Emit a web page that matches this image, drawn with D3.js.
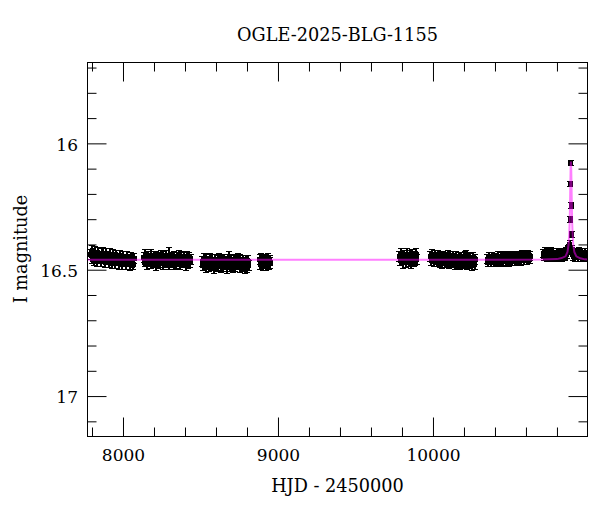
<!DOCTYPE html>
<html><head><meta charset="utf-8">
<script src="https://cdn.jsdelivr.net/npm/d3@7"></script>
<style>
html,body{margin:0;padding:0;background:#fff;}
svg{display:block;}
text{font-family:"DejaVu Serif",serif;fill:#000;}
</style></head>
<body>
<svg id="chart" width="600" height="512"></svg>
<script>
// ---- data (HJD-2450000, I mag, error) ----
const title = "OGLE-2025-BLG-1155";
const xLabel = "HJD - 2450000";
const yLabel = "I magnitude";
const xMajorTicks = [8000, 9000, 10000];
const xMinorTicks = [7800, 8200, 8400, 8600, 8800, 9200, 9400, 9600, 9800, 10200, 10400, 10600, 10800];
const yMajorTicks = [16, 16.5, 17];
const yMajorLabels = ["16", "16.5", "17"];
const yMinorTicks = [15.7, 15.8, 15.9, 16.1, 16.2, 16.3, 16.4, 16.6, 16.7, 16.8, 16.9, 17.1];

const season1 = [
 [7791,16.440,.020],[7797,16.428,.024],[7802,16.458,.019],[7808,16.436,.021],[7813,16.462,.020],
 [7819,16.431,.022],[7824,16.452,.019],[7830,16.443,.021],[7835,16.466,.020],[7841,16.434,.022],
 [7846,16.455,.019],[7852,16.446,.020],[7857,16.468,.021],[7863,16.437,.022],[7869,16.441,.028],
 [7874,16.458,.019],[7880,16.449,.020],[7885,16.470,.021],[7891,16.438,.022],[7896,16.460,.019],
 [7902,16.446,.020],[7907,16.472,.021],[7913,16.440,.022],[7918,16.462,.019],[7924,16.451,.020],
 [7929,16.474,.021],[7935,16.442,.022],[7940,16.464,.019],[7946,16.453,.020],[7951,16.476,.021],
 [7957,16.444,.022],[7962,16.466,.019],[7968,16.455,.020],[7973,16.477,.021],[7979,16.446,.022],
 [7984,16.468,.019],[7990,16.457,.020],[7995,16.478,.021],[8001,16.448,.022],[8007,16.469,.019],
 [8013,16.459,.020],[8019,16.479,.021],[8025,16.450,.022],[8031,16.470,.019],[8037,16.460,.020],
 [8043,16.480,.022],[8049,16.452,.021],[8055,16.471,.020],[8061,16.462,.022],[8067,16.478,.021],
 [8072,16.455,.020]
];
const season2 = [
 [8134,16.452,.020],[8139,16.470,.019],[8145,16.441,.021],[8150,16.462,.020],[8156,16.478,.022],
 [8161,16.447,.019],[8167,16.465,.020],[8172,16.456,.021],[8178,16.476,.020],[8183,16.443,.022],
 [8189,16.461,.019],[8194,16.471,.020],[8200,16.449,.021],[8205,16.466,.020],[8211,16.480,.022],
 [8216,16.445,.019],[8222,16.459,.020],[8227,16.473,.021],[8233,16.451,.020],[8238,16.468,.022],
 [8244,16.442,.019],[8249,16.463,.020],[8255,16.477,.021],[8260,16.448,.020],[8266,16.457,.022],
 [8271,16.474,.019],[8277,16.444,.020],[8282,16.466,.021],[8288,16.455,.020],[8294,16.479,.022],
 [8299,16.446,.032],[8305,16.462,.020],[8310,16.472,.021],[8316,16.450,.020],[8321,16.467,.022],
 [8327,16.481,.019],[8332,16.447,.020],[8338,16.460,.021],[8343,16.475,.020],[8349,16.452,.022],
 [8354,16.469,.019],[8360,16.444,.020],[8365,16.463,.021],[8371,16.478,.020],[8376,16.449,.022],
 [8382,16.458,.019],[8388,16.473,.020],[8393,16.453,.021],[8399,16.468,.020],[8405,16.480,.022],
 [8410,16.447,.019],[8416,16.464,.020],[8422,16.476,.021],[8427,16.455,.022],[8433,16.470,.021],
 [8438,16.460,.020]
];
const season3 = [
 [8511,16.466,.020],[8516,16.483,.019],[8522,16.455,.021],[8527,16.475,.020],[8533,16.490,.022],
 [8538,16.460,.019],[8544,16.478,.020],[8549,16.469,.021],[8555,16.488,.020],[8560,16.457,.022],
 [8566,16.474,.019],[8571,16.484,.020],[8577,16.462,.021],[8582,16.479,.020],[8588,16.492,.022],
 [8593,16.458,.019],[8599,16.472,.020],[8604,16.486,.021],[8610,16.464,.020],[8615,16.481,.022],
 [8621,16.456,.019],[8626,16.476,.020],[8632,16.489,.021],[8637,16.461,.020],[8643,16.470,.022],
 [8648,16.487,.019],[8654,16.458,.020],[8659,16.479,.021],[8665,16.468,.020],[8670,16.491,.022],
 [8676,16.457,.019],[8681,16.462,.034],[8687,16.475,.020],[8692,16.485,.021],[8698,16.463,.020],
 [8703,16.480,.022],[8709,16.493,.019],[8714,16.460,.020],[8720,16.473,.021],[8725,16.488,.020],
 [8731,16.465,.022],[8736,16.482,.019],[8742,16.457,.020],[8747,16.476,.021],[8753,16.490,.020],
 [8758,16.462,.022],[8764,16.471,.019],[8769,16.486,.020],[8775,16.466,.021],[8780,16.481,.020],
 [8786,16.494,.022],[8791,16.461,.019],[8797,16.477,.020],[8802,16.489,.022],[8807,16.468,.023],
 [8810,16.484,.021]
];
const season4 = [
 [8881,16.460,.020],[8886,16.478,.021],[8891,16.455,.019],[8896,16.471,.022],[8901,16.484,.020],
 [8906,16.462,.021],[8911,16.475,.019],[8916,16.458,.020],[8921,16.482,.022],[8926,16.466,.021],
 [8931,16.474,.019],[8936,16.457,.020],[8941,16.480,.021],[8946,16.464,.020],[8950,16.472,.022]
];
const season5 = [
 [9783,16.447,.020],[9788,16.464,.019],[9794,16.437,.021],[9799,16.457,.020],[9805,16.473,.022],
 [9810,16.442,.019],[9816,16.460,.020],[9821,16.451,.021],[9827,16.470,.020],[9832,16.438,.022],
 [9838,16.456,.019],[9843,16.466,.020],[9849,16.444,.021],[9854,16.461,.020],[9860,16.474,.022],
 [9865,16.440,.019],[9871,16.454,.020],[9876,16.468,.021],[9882,16.446,.020],[9887,16.463,.022],
 [9892,16.439,.021],[9896,16.458,.020]
];
const season6 = [
 [9984,16.448,.019],[9989,16.463,.020],[9995,16.440,.021],[10000,16.456,.019],[10006,16.468,.020],
 [10011,16.444,.021],[10017,16.459,.019],[10022,16.451,.020],[10028,16.467,.021],[10033,16.441,.019],
 [10039,16.457,.020],[10044,16.470,.021],[10050,16.447,.019],[10055,16.462,.020],[10061,16.474,.021],
 [10066,16.445,.019],[10072,16.458,.020],[10077,16.471,.021],[10083,16.450,.020],[10088,16.466,.022],
 [10094,16.443,.019],[10099,16.461,.020],[10105,16.476,.021],[10110,16.449,.020],[10116,16.457,.022],
 [10121,16.473,.019],[10127,16.446,.020],[10132,16.465,.021],[10138,16.456,.020],[10143,16.478,.022],
 [10149,16.448,.019],[10154,16.463,.020],[10160,16.474,.021],[10165,16.452,.020],[10171,16.469,.022],
 [10176,16.480,.019],[10182,16.450,.020],[10187,16.461,.021],[10193,16.476,.020],[10198,16.455,.022],
 [10204,16.471,.019],[10209,16.449,.020],[10215,16.453,.030],[10220,16.479,.020],[10226,16.452,.022],
 [10231,16.462,.019],[10237,16.477,.020],[10242,16.457,.021],[10248,16.472,.020],[10253,16.482,.022],
 [10259,16.451,.019],[10264,16.467,.020],[10269,16.478,.021],[10273,16.460,.020]
];
const season7 = [
 [10349,16.458,.017],[10354,16.471,.016],[10360,16.449,.018],[10365,16.464,.017],[10371,16.454,.016],
 [10376,16.469,.018],[10382,16.447,.017],[10387,16.461,.016],[10393,16.472,.017],[10398,16.452,.018],
 [10404,16.466,.016],[10409,16.456,.017],[10415,16.470,.018],[10420,16.446,.017],[10426,16.460,.016],
 [10431,16.467,.017],[10437,16.450,.018],[10442,16.463,.016],[10448,16.455,.017],[10453,16.469,.018],
 [10459,16.445,.017],[10464,16.459,.016],[10470,16.466,.017],[10475,16.451,.018],[10481,16.462,.016],
 [10486,16.453,.017],[10492,16.468,.018],[10497,16.444,.017],[10503,16.457,.016],[10508,16.465,.017],
 [10514,16.448,.018],[10519,16.461,.016],[10525,16.452,.017],[10530,16.466,.018],[10536,16.443,.017],
 [10541,16.455,.016],[10547,16.463,.017],[10552,16.447,.018],[10558,16.459,.016],[10563,16.450,.017],
 [10569,16.464,.018],[10574,16.442,.017],[10580,16.454,.016],[10585,16.461,.017],[10591,16.446,.018],
 [10596,16.457,.016],[10602,16.449,.017],[10607,16.462,.018],[10613,16.441,.017],[10618,16.453,.016],
 [10624,16.459,.017],[10628,16.447,.018]
];
const season8 = [
 [10711,16.436,.015],[10716,16.449,.014],[10722,16.430,.016],[10727,16.443,.015],[10733,16.452,.014],
 [10738,16.433,.016],[10744,16.446,.015],[10749,16.439,.014],[10755,16.454,.015],[10760,16.429,.016],
 [10766,16.442,.014],[10771,16.450,.015],[10777,16.434,.016],[10782,16.447,.014],[10788,16.438,.015],
 [10793,16.453,.016],[10799,16.431,.014],[10804,16.444,.015],[10810,16.451,.016],[10815,16.435,.014],
 [10821,16.448,.015],[10826,16.440,.016],[10832,16.455,.014],[10837,16.432,.015],[10843,16.445,.016],
 [10848,16.437,.014],[10854,16.450,.015],[10859,16.428,.016],[10864,16.441,.015],[10869,16.425,.016],
 [10874,16.420,.015],[10879,16.418,.016],
 [10884,16.400,.014],[10886,16.300,.012],[10887,16.160,.011],[10890,16.079,.010],[10893,16.246,.012],
 [10895,16.360,.013],[10897,16.420,.014],
 [10901,16.434,.015],[10906,16.448,.014],[10911,16.439,.016],[10916,16.453,.015],[10921,16.431,.014],
 [10926,16.445,.016],[10931,16.438,.015],[10936,16.452,.014],[10941,16.429,.016],[10946,16.443,.015],
 [10951,16.436,.014],[10956,16.450,.016],[10961,16.433,.015],[10966,16.446,.014],[10971,16.440,.016],
 [10976,16.454,.015],[10981,16.430,.014],[10986,16.444,.016],[10991,16.437,.015],[10995,16.449,.014]
];

// model light curve
const modelHJD = [7771, 10700, 10800, 10830, 10855, 10868, 10875, 10879, 10882, 10884, 10886, 10888, 10890,
                  10892, 10894, 10896, 10898, 10901, 10905, 10912, 10925, 10950, 10980, 10997];
const modelMag = [16.461, 16.460, 16.458, 16.454, 16.447, 16.430, 16.400, 16.360, 16.310, 16.250, 16.170, 16.100, 16.072,
                  16.100, 16.170, 16.250, 16.310, 16.360, 16.400, 16.430, 16.447, 16.455, 16.459, 16.460];

// ---- drawing ----
const svg = d3.select("#chart");
const L = 87.5, R = 587.5, T = 62.5, B = 436.5;
const x = d3.scaleLinear().domain([7771, 10997]).range([L, R]);
const y = d3.scaleLinear().domain([15.68, 17.16]).range([T, B]);

const points = [].concat(season1, season2, season3, season4, season5, season6, season7, season8);

svg.append("defs").append("clipPath").attr("id", "clip")
  .append("rect").attr("x", L).attr("y", T).attr("width", R - L).attr("height", B - T);

const plot = svg.append("g").attr("clip-path", "url(#clip)");
const pts = plot.append("g").attr("fill", "#000").attr("stroke", "#000").attr("shape-rendering", "crispEdges");
const capW = 3, ms = 5;
points.forEach(d => {
  const cx = x(d[0]), y1 = y(d[1] - d[2]), y2 = y(d[1] + d[2]);
  pts.append("line").attr("x1", cx).attr("x2", cx).attr("y1", y1).attr("y2", y2).attr("stroke-width", 2);
  pts.append("line").attr("x1", cx - capW).attr("x2", cx + capW).attr("y1", y1).attr("y2", y1).attr("stroke-width", 1);
  pts.append("line").attr("x1", cx - capW).attr("x2", cx + capW).attr("y1", y2).attr("y2", y2).attr("stroke-width", 1);
  pts.append("rect").attr("x", cx - ms / 2).attr("y", y(d[1]) - ms / 2).attr("width", ms).attr("height", ms).attr("stroke", "none");
});

const model = modelHJD.map((t, i) => [t, modelMag[i]]);
plot.append("path").datum(model)
  .attr("fill", "none").attr("stroke", "#ff00ff").attr("stroke-opacity", 0.5).attr("stroke-width", 2)
  .attr("d", d3.line().x(d => x(d[0])).y(d => y(d[1])));

// axes
function styleAxis(g) {
  g.select(".domain").remove();
  g.selectAll("line").attr("stroke", "#000").attr("stroke-width", 1);
  g.selectAll("text").attr("font-family", "DejaVu Serif").attr("font-size", 17).attr("fill", "#000");
}
// bottom
svg.append("g").attr("transform", `translate(0,${B})`)
  .call(d3.axisBottom(x).tickValues(xMajorTicks).tickSize(-19).tickPadding(12).tickFormat(d3.format("d"))).call(styleAxis);
svg.append("g").attr("transform", `translate(0,${B})`)
  .call(d3.axisBottom(x).tickValues(xMinorTicks).tickSize(-9).tickFormat("")).call(styleAxis);
// top
svg.append("g").attr("transform", `translate(0,${T})`)
  .call(d3.axisTop(x).tickValues(xMajorTicks).tickSize(-19).tickFormat("")).call(styleAxis);
svg.append("g").attr("transform", `translate(0,${T})`)
  .call(d3.axisTop(x).tickValues(xMinorTicks).tickSize(-9).tickFormat("")).call(styleAxis);
// left
const leftMaj = svg.append("g").attr("transform", `translate(${L},0)`)
  .call(d3.axisLeft(y).tickValues(yMajorTicks).tickSize(-19).tickPadding(9.5).tickFormat((d, i) => yMajorLabels[i])).call(styleAxis);
leftMaj.selectAll("text").attr("dy", "0.4em");
svg.append("g").attr("transform", `translate(${L},0)`)
  .call(d3.axisLeft(y).tickValues(yMinorTicks).tickSize(-9).tickFormat("")).call(styleAxis);
// right
svg.append("g").attr("transform", `translate(${R},0)`)
  .call(d3.axisRight(y).tickValues(yMajorTicks).tickSize(-19).tickFormat("")).call(styleAxis);
svg.append("g").attr("transform", `translate(${R},0)`)
  .call(d3.axisRight(y).tickValues(yMinorTicks).tickSize(-9).tickFormat("")).call(styleAxis);

// frame
svg.append("rect").attr("x", L).attr("y", T).attr("width", R - L).attr("height", B - T)
  .attr("fill", "none").attr("stroke", "#000").attr("stroke-width", 1);

// texts
svg.append("text").attr("x", (L + R) / 2).attr("y", 41).attr("text-anchor", "middle")
  .attr("font-size", 17.7).text(title);
svg.append("text").attr("x", (L + R) / 2).attr("y", 492).attr("text-anchor", "middle")
  .attr("font-size", 17.7).text(xLabel);
svg.append("text").attr("transform", "translate(27,249) rotate(-90)").attr("text-anchor", "middle")
  .attr("font-size", 17.7).text(yLabel);
</script>
</body></html>
